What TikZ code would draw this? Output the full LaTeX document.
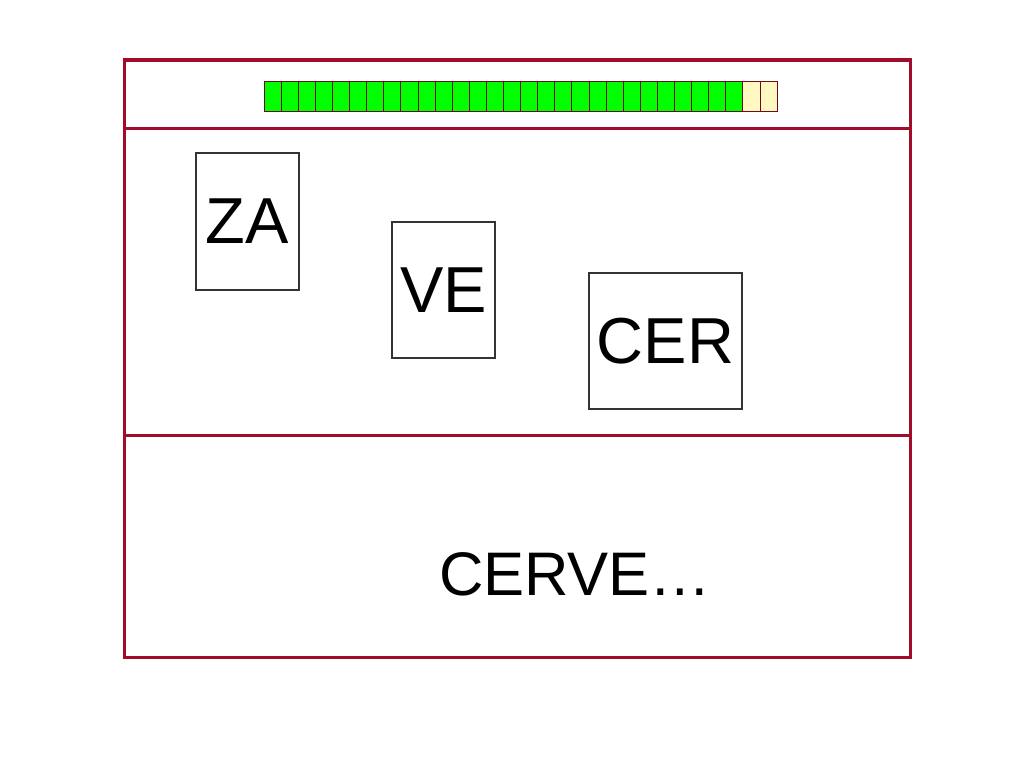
\documentclass[tikz,border=0pt]{standalone}
\usepackage{fontspec}
\setmainfont{Liberation Sans}
\usepackage{tikz}
\usetikzlibrary{calc}
\definecolor{framered}{RGB}{160,12,42}
\definecolor{cellgreen}{RGB}{0,255,0}
\definecolor{cellyellow}{RGB}{255,248,192}
\tikzset{
    frameline/.style={draw=framered,line width=3pt},
    cellbox/.style={draw=framered!70!black,line width=0.8pt},
    wordbox/.style={draw=black!80,line width=1.1pt,inner sep=0pt,font=\fontsize{65}{70}\selectfont},
}

\begin{document}
\begin{tikzpicture}[x=1pt,y=-1pt]
                \useasboundingbox (0,0) rectangle (1024,768);

                \coordinate (TL) at (124,60);
                \coordinate (TR) at (910,60);
                \coordinate (BL) at (124,657);
                \coordinate (BR) at (910,657);
                \coordinate (L1) at (124,128);
                \coordinate (R1) at (910,128);
                \coordinate (L2) at (124,435);
                \coordinate (R2) at (910,435);

                \draw[frameline] (TL) -- (TR) -- (BR) -- (BL) -- cycle;
                \draw[frameline] (L1) -- (R1);
                \draw[frameline] (L2) -- (R2);

                \foreach \i in {0,...,27}
                    \draw[cellbox,fill=cellgreen] ($(264,81)+(\i*17.1,0)$) rectangle ++(17.1,30);
                \foreach \i in {28,29}
                    \draw[cellbox,fill=cellyellow] ($(264,81)+(\i*17.1,0)$) rectangle ++(17.1,30);

                \node[wordbox,minimum width=103pt,minimum height=137pt] (za) at (247.5,221.5) {ZA};
                \node[wordbox,minimum width=103pt,minimum height=136pt] (ve) at (443.5,290) {VE};
                \node[wordbox,minimum width=153pt,minimum height=136pt] (cer) at (665.5,341) {CER};

                \node[anchor=base west,inner sep=0pt,font=\fontsize{61.5}{66}\selectfont] (cerve) at (439,595) {CERVE…};
            \end{tikzpicture}
\end{document}
